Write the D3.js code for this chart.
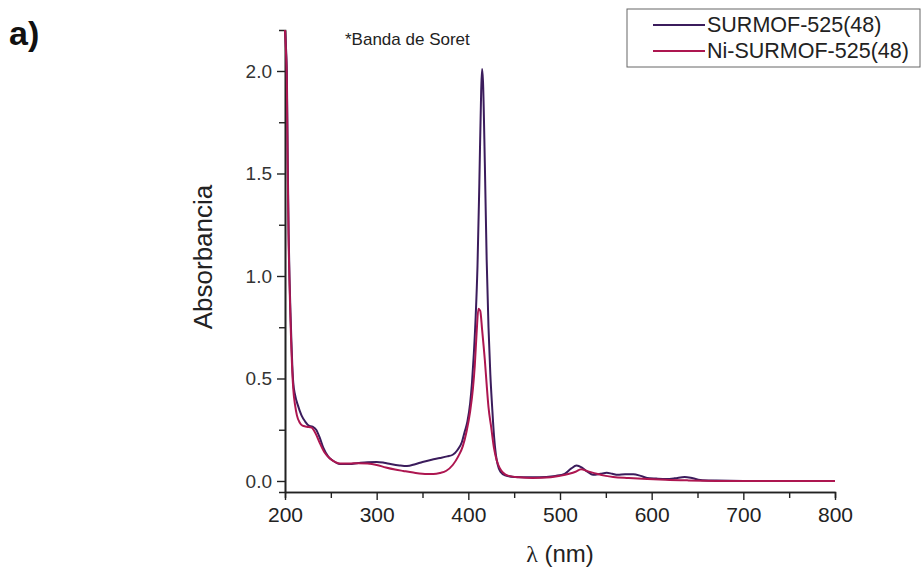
<html>
<head>
<style>
  body { margin: 0; background: #fff; }
  text { font-family: "Liberation Sans", Arial, sans-serif; }
</style>
</head>
<body>
<svg id="chart" width="924" height="567"></svg>
<script src="https://cdn.jsdelivr.net/npm/d3@7"></script>
<script>
// wavelengths (nm) and absorbance
const waveSurmof = [200,201,202,203,204,205,206,207,208,209,211,214,218,222,226,230,234,238,242,247,252,260,270,280,290,300,308,315,325,333,342,350,360,369,377,383,388,393,396,399,402,404,406,408,410,412,414,415,416,418,420,422,424,426,428,430,432,435,440,450,470,485,495,505,512,518,524,530,536,544,551,557,563,571,580,588,595,605,616,625,636,645,653,670,700,800]
const absSurmof = [2.20,2.12,2.00,1.55,1.20,0.98,0.82,0.68,0.56,0.48,0.42,0.37,0.32,0.29,0.27,0.265,0.25,0.21,0.16,0.12,0.10,0.083,0.083,0.088,0.092,0.093,0.089,0.083,0.076,0.073,0.082,0.093,0.104,0.112,0.120,0.128,0.15,0.19,0.24,0.29,0.38,0.48,0.62,0.80,1.05,1.45,1.90,2.01,1.95,1.55,1.08,0.75,0.52,0.36,0.22,0.13,0.08,0.045,0.028,0.02,0.018,0.02,0.025,0.035,0.06,0.075,0.065,0.045,0.03,0.035,0.04,0.035,0.03,0.033,0.033,0.025,0.015,0.012,0.01,0.013,0.02,0.013,0.005,0.002,0.0,0.0]

const waveNi = [200,201,202,203,204,205,206,207,208,209,211,213,216,219,224,229,233,238,243,249,255,260,270,280,290,300,310,320,329,340,355,362,369,376,383,389,394,398,402,405,407,409,411,413,415,418,420,422,425,428,431,434,438,444,455,470,490,500,510,517,523,530,540,550,558,575,595,615,640,700,800]
const absNi = [2.20,2.10,1.95,1.50,1.15,0.95,0.78,0.64,0.53,0.45,0.37,0.32,0.285,0.27,0.265,0.26,0.235,0.185,0.14,0.11,0.092,0.085,0.085,0.087,0.085,0.078,0.066,0.056,0.049,0.041,0.034,0.034,0.039,0.05,0.078,0.12,0.17,0.24,0.34,0.45,0.56,0.72,0.84,0.83,0.74,0.59,0.47,0.36,0.26,0.16,0.10,0.065,0.04,0.025,0.018,0.015,0.018,0.025,0.035,0.045,0.057,0.048,0.035,0.025,0.02,0.015,0.01,0.006,0.003,0.0,0.0]

const seriesNames = ["SURMOF-525(48)", "Ni-SURMOF-525(48)"]
const seriesColors = ["#3b1c5c", "#ad1650"]
const xTicks = [200,300,400,500,600,700,800]
const yTicks = [0.0,0.5,1.0,1.5,2.0]

let svg = d3.select("#chart")

let x = d3.scaleLinear().domain([200, 800]).range([285, 835])
let y = d3.scaleLinear().domain([-0.0537, 2.2]).range([492, 30])

let series = [
  waveSurmof.map((w, i) => [w, absSurmof[i]]),
  waveNi.map((w, i) => [w, absNi[i]])
]

// minor ticks
svg.append("g")
  .attr("transform", "translate(0,492)")
  .call(d3.axisBottom(x).tickValues(d3.range(250, 800, 100)).tickSize(6).tickFormat(""))
svg.append("g")
  .attr("transform", "translate(285,0)")
  .call(d3.axisLeft(y).tickValues([0.25,0.75,1.25,1.75]).tickSize(6).tickFormat(""))

let xAxis = svg.append("g")
  .attr("transform", "translate(0,492)")
  .call(d3.axisBottom(x).tickValues(xTicks).tickSize(8).tickSizeOuter(0).tickPadding(7))
let yAxis = svg.append("g")
  .attr("transform", "translate(285,0)")
  .call(d3.axisLeft(y).tickValues(yTicks).tickSize(8).tickSizeOuter(0).tickPadding(5).tickFormat(d3.format(".1f")))

svg.selectAll(".domain").attr("stroke", "#222").attr("stroke-width", 1.6)
svg.selectAll(".tick line").attr("stroke", "#222").attr("stroke-width", 1.4)
xAxis.selectAll("text").attr("font-size", 21).attr("fill", "#222")
yAxis.selectAll("text").attr("font-size", 19).attr("fill", "#333")

let line = d3.line()
  .x(d => x(d[0]))
  .y(d => y(d[1]))
  .curve(d3.curveMonotoneX)

svg.selectAll("path.series").data(series)
  .enter().append("path")
  .attr("class", "series")
  .attr("d", d => line(d))
  .attr("fill", "none")
  .attr("stroke", (d, i) => seriesColors[i])
  .attr("stroke-width", 2)

// titles
svg.append("text")
  .attr("transform", "translate(212,257) rotate(-90)")
  .attr("text-anchor", "middle")
  .attr("font-size", 26)
  .attr("fill", "#222")
  .text("Absorbancia")

let xt = svg.append("text")
  .attr("x", 560).attr("y", 562)
  .attr("text-anchor", "middle")
  .attr("font-size", 24)
  .attr("fill", "#222")
xt.append("tspan").attr("font-family", "Liberation Serif").text("λ")
xt.append("tspan").text(" (nm)")

svg.append("text")
  .attr("x", 345).attr("y", 45)
  .attr("font-size", 17)
  .attr("fill", "#222")
  .text("*Banda de Soret")

svg.append("text")
  .attr("x", 9).attr("y", 45)
  .attr("font-size", 34)
  .attr("font-weight", "bold")
  .attr("fill", "#111")
  .text("a)")

// legend
let legend = svg.append("g")
legend.append("rect")
  .attr("x", 627).attr("y", 9).attr("width", 293).attr("height", 58)
  .attr("fill", "#fff").attr("stroke", "#666").attr("stroke-width", 1)
seriesNames.forEach((name, i) => {
  let ly = 25 + i * 26
  legend.append("line")
    .attr("x1", 653).attr("x2", 705).attr("y1", ly).attr("y2", ly)
    .attr("stroke", seriesColors[i]).attr("stroke-width", 2)
  legend.append("text")
    .attr("x", 707).attr("y", ly + 7)
    .attr("font-size", 21.5)
    .attr("fill", "#222")
    .text(name)
})
</script>
</body>
</html>
